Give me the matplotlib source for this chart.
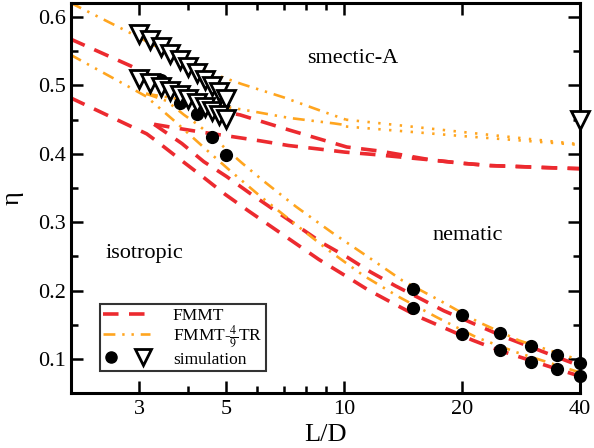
import matplotlib
matplotlib.use("Agg")
import matplotlib.pyplot as plt
from matplotlib.ticker import FixedLocator, NullFormatter, FixedFormatter
from matplotlib.legend_handler import HandlerTuple
from matplotlib.lines import Line2D

plt.rcParams['font.family'] = ['Liberation Serif', 'DejaVu Serif']
plt.rcParams['mathtext.fontset'] = 'stix'

# ---------------- data ----------------
# FMMT (red dashed)
red_sm_x = [2, 2.84, 4.99, 5.42, 7.27, 10.15, 12.34, 16.7, 19.9, 23.6, 27.8, 33.0, 40]
red_sm_y = [0.568, 0.529, 0.461, 0.457, 0.4345, 0.410, 0.404, 0.391, 0.3863, 0.3828, 0.3814, 0.3798, 0.3783]

red_iso_x = [2, 3.13, 3.32, 3.81, 4.33, 4.96, 5.69, 8.62, 9.95, 11.45, 13.27, 15.52, 17.91, 21.25, 24.74, 33.66, 40]
red_iso_y = [0.482, 0.4293, 0.4185, 0.3918, 0.3675, 0.3409, 0.3166, 0.2453, 0.2234, 0.2016, 0.1818, 0.1614, 0.1459, 0.1274, 0.1128, 0.0881, 0.0745]

red_nem_x = [3.27, 3.85, 4.38, 5.01, 5.74, 8.80, 10.15, 11.69, 13.53, 15.83, 17.98, 21.46, 25.74, 33.87, 40]
red_nem_y = [0.4432, 0.4151, 0.3885, 0.3667, 0.3424, 0.2693, 0.2492, 0.2269, 0.2066, 0.1866, 0.1702, 0.1512, 0.1317, 0.1055, 0.0897]

red_nsm_x = [3.27, 3.70, 4.34, 5.16, 6.09, 7.20, 8.51, 10.04, 11.87, 16.7, 19.9, 23.6, 27.8, 33.0, 40]
red_nsm_y = [0.4432, 0.438, 0.4316, 0.4253, 0.4191, 0.4122, 0.4074, 0.4025, 0.3991, 0.391, 0.3863, 0.3828, 0.3814, 0.3798, 0.3783]

# FMMT-4/9TR (orange dash-dot-dot, dotted beyond L/D=10)
or_sm_x = [2, 2.76, 4.33, 5.47, 6.99, 8.84, 10.1]
or_sm_y = [0.621, 0.5806, 0.5229, 0.5022, 0.4828, 0.4617, 0.450]
or_sm_dot_x = [10.1, 20, 40]
or_sm_dot_y = [0.450, 0.432, 0.414]

or_iso_x = [2, 2.74, 3.12, 3.70, 4.45, 5.05, 6.09, 7.44, 9.02, 11.19, 13.8, 17.29, 21.79, 27.42, 40]
or_iso_y = [0.545, 0.502, 0.484, 0.4472, 0.4058, 0.378, 0.3384, 0.2987, 0.2608, 0.222, 0.1905, 0.1604, 0.1313, 0.1099, 0.080]

or_nem_x = [3.12, 3.52, 3.90, 4.21, 4.5, 5.47, 6.18, 7.52, 9.29, 11.53, 14.07, 17.63, 21.87, 27.94, 40]
or_nem_y = [0.488, 0.4774, 0.457, 0.4435, 0.430, 0.387, 0.3616, 0.323, 0.2851, 0.2488, 0.2147, 0.1847, 0.1546, 0.1269, 0.098]

or_nsm_x = [3.12, 5.61, 7.24, 9.43, 10.1]
or_nsm_y = [0.488, 0.4639, 0.4525, 0.4445, 0.442]
or_nsm_dot_x = [10.1, 20, 40]
or_nsm_dot_y = [0.440, 0.426, 0.413]

# simulation
circ_x = [3.4, 3.8, 4.2, 4.6, 5.0, 15, 15, 20, 20, 25, 25, 30, 30, 35, 35, 40, 40]
circ_y = [0.508, 0.474, 0.458, 0.425, 0.399, 0.2015, 0.1737, 0.1639, 0.1368, 0.1382, 0.1124,
          0.1187, 0.0953, 0.1051, 0.0847, 0.0945, 0.0749]

tri_up_x = [3.0, 3.2, 3.4, 3.6, 3.8, 4.0, 4.2, 4.4, 4.6, 4.8, 5.0]
tri_up_y = [0.575, 0.566, 0.556, 0.546, 0.537, 0.527, 0.518, 0.508, 0.499, 0.490, 0.480]
tri_lo_x = [3.0, 3.2, 3.4, 3.6, 3.8, 4.0, 4.2, 4.4, 4.6, 4.8, 5.0]
tri_lo_y = [0.5095, 0.504, 0.498, 0.492, 0.486, 0.480, 0.475, 0.469, 0.463, 0.457, 0.451]
tri_x40 = [40]
tri_y40 = [0.450]

xticks_major = [3, 5, 10, 20, 40]
xticks_minor = [4, 6, 7, 8, 9]
yticks = [0.1, 0.2, 0.3, 0.4, 0.5, 0.6]
yticks_minor = [0.15, 0.25, 0.35, 0.45, 0.55]

# ---------------- plot ----------------
RED = '#ec2a2f'
ORANGE = '#ffa51f'

fig = plt.figure(figsize=(5.94, 4.48), dpi=100)
ax = fig.add_axes([70.5/594, 1-393/448, (580-70.5)/594, (393-3.5)/448])

red_kw = dict(color=RED, lw=2.6, ls=(0, (4.3, 2.9)), dash_capstyle='butt')
for xs, ys in [(red_sm_x, red_sm_y), (red_iso_x, red_iso_y), (red_nem_x, red_nem_y), (red_nsm_x, red_nsm_y)]:
    ax.plot(xs, ys, **red_kw)

or_kw = dict(color=ORANGE, lw=1.9, ls=(0, (4.5, 2.6, 0.9, 2.6, 0.9, 2.6)), dash_capstyle='butt')
or_dot_kw = dict(color=ORANGE, lw=1.9, ls=(0, (0.9, 3.2)), dash_capstyle='butt')
for xs, ys in [(or_sm_x, or_sm_y), (or_iso_x, or_iso_y), (or_nem_x, or_nem_y), (or_nsm_x, or_nsm_y)]:
    ax.plot(xs, ys, **or_kw)
for xs, ys in [(or_sm_dot_x, or_sm_dot_y), (or_nsm_dot_x, or_nsm_dot_y)]:
    ax.plot(xs, ys, **or_dot_kw)

ax.plot(circ_x, circ_y, 'o', color='black', ms=8.5, clip_on=False, zorder=5)
tri_kw = dict(marker='v', ls='none', mfc='white', mec='black', mew=2.0, ms=13, clip_on=False, zorder=6)
ax.plot(tri_up_x, tri_up_y, **tri_kw)
ax.plot(tri_lo_x, tri_lo_y, **tri_kw)
ax.plot(tri_x40, tri_y40, **tri_kw)

ax.set_xscale('log')
ax.set_xlim(2, 40)
ax.set_ylim(0.05, 0.62)
ax.xaxis.set_major_locator(FixedLocator(xticks_major))
ax.xaxis.set_major_formatter(FixedFormatter([str(v) for v in xticks_major]))
ax.xaxis.set_minor_locator(FixedLocator(xticks_minor))
ax.xaxis.set_minor_formatter(NullFormatter())
ax.yaxis.set_major_locator(FixedLocator(yticks))
ax.yaxis.set_major_formatter(FixedFormatter([f'{v:.1f}' for v in yticks]))
ax.yaxis.set_minor_locator(FixedLocator(yticks_minor))

for s in ax.spines.values():
    s.set_linewidth(2.2)
ax.tick_params(which='major', direction='in', length=8.5, width=1.8, top=True, right=True,
               labelsize=16)
ax.tick_params(axis='y', which='major', pad=3)
ax.tick_params(axis='x', which='major', pad=5)
ax.tick_params(which='minor', direction='in', length=4.8, width=1.8, top=True, right=True)

ax.set_xlabel('L/D', fontsize=19)
ax.xaxis.set_label_coords(0.5, (393 - 441) / 389.5)
ax.xaxis.label.set_va('baseline')
ax.set_ylabel('η', fontsize=19)
ax.yaxis.set_label_coords((13 - 70.5) / 509.5, 0.5)
ax.yaxis.label.set_va('center')

ax.text(10.5, 0.5328, 'smectic-A', fontsize=16, ha='center', va='baseline')
ax.text(3.09, 0.2474, 'isotropic', fontsize=16, ha='center', va='baseline')
ax.text(20.65, 0.2745, 'nematic', fontsize=16, ha='center', va='baseline')

h_red = Line2D([], [], **red_kw)
h_or = Line2D([], [], **or_kw)
h_c = Line2D([], [], marker='o', color='black', ls='none', ms=8)
h_t = Line2D([], [], marker='v', ls='none', mfc='white', mec='black', mew=2.0, ms=12)
leg = ax.legend([h_red, h_or, (h_c, h_t)], ['FMMT', r'FMMT-$\frac{4}{9}$TR', 'simulation'],
                handler_map={tuple: HandlerTuple(ndivide=None, pad=0.9)},
                loc='lower left', bbox_to_anchor=((100 - 70.5) / 509.5, (393 - 371) / 389.5),
                borderaxespad=0, fontsize=12.5,
                frameon=True, fancybox=False, edgecolor='black', handlelength=2.7,
                borderpad=0.2, labelspacing=0.02, handletextpad=1.3)
leg.get_frame().set_linewidth(1.5)

fig.savefig('out.png', dpi=100)
